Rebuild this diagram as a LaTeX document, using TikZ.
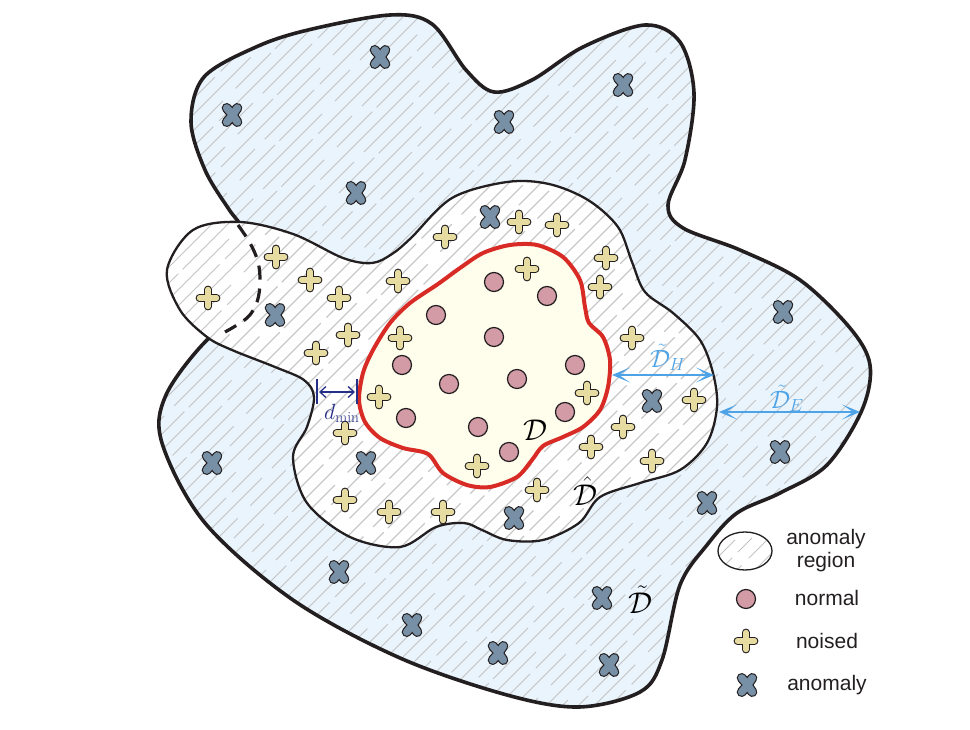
\RequirePackage{fix-cm}
\documentclass[tikz,border=0pt]{standalone}
\usepackage{fontspec}
\newfontfamily\legendfont{Liberation Sans}
\usetikzlibrary{arrows.meta}
\definecolor{bgblue}{HTML}{E9F4FD}
\definecolor{dyellow}{HTML}{FFFDEB}
\definecolor{dred}{HTML}{D92B25}
\definecolor{pinkfill}{HTML}{D29BA6}
\definecolor{plusfill}{HTML}{E6DCA2}
\definecolor{xfill}{HTML}{7890A6}
\definecolor{inkdark}{HTML}{231F20}
\definecolor{hatchgray}{HTML}{C4C4C4}
\definecolor{arrowblue}{HTML}{4DA3E6}
\definecolor{navy}{HTML}{262F87}

\def\outerpath{plot[smooth cycle, tension=0.55] coordinates {(240,224) (228,208) (205,170) (191,122) (204,77) (256,47) (308,30) (390,15) (432,24) (466,70) (494,92) (532,80) (583,47) (645,25) (680,42) (694,93) (685,160) (668,205) (683,228) (740,250) (800,280) (850,328) (870,365) (862,410) (827,465) (780,493) (737,513) (707,545) (680,585) (662,660) (640,692) (579,707) (507,695) (400,658) (293,600) (205,523) (162,443) (166,395) (207,340) (245,318) (260,282) (250,243)}}

\def\whitepath{plot[smooth cycle, tension=0.55] coordinates {(193,230) (240,222) (293,234) (343,258) (372,263) (392,254) (411,238) (452,198) (507,182) (549,184) (588,200) (618,227) (632,262) (645,292) (673,313) (700,340) (713,373) (717,407) (707,443) (680,470) (640,483) (600,497) (579,523) (543,540) (507,540) (482,530) (464,523) (436,527) (400,547) (350,537) (307,503) (293,457) (307,427) (314,397) (304,380) (275,367) (232,350) (207,337) (180,310) (167,270)}}

\def\redpath{plot[smooth cycle, tension=0.5] coordinates {(359,400) (363,373) (373,350) (390,323) (410,303) (438,284) (460,268) (483,253) (510,245) (537,245) (563,257) (580,280) (585,307) (589,323) (603,337) (610,360) (608,387) (600,410) (583,427) (563,437) (543,446) (532,460) (517,477) (490,487) (467,485) (443,473) (428,454) (403,448) (380,438) (365,422)}}

\newcommand\myhatch{%
  \foreach \c [evaluate=\c as \ph using {mod(\c*7,401)}] in {100,116,...,1700}
    {\draw[hatchline, dash phase=\ph pt] (\c,0) -- ({\c-800},800);}}

\begin{document}
\begin{tikzpicture}[x=1pt,y=-1pt,
  hatchline/.style={draw=hatchgray, line width=0.75pt,
    dash pattern=on 140pt off 8pt on 70pt off 14pt on 100pt off 6pt on 50pt off 18pt},
  plusmark/.pic={
    \draw[line width=7.8pt, line cap=round, inkdark] (-8.5,0) -- (8.5,0) (0,-8.5) -- (0,8.5);
    \draw[line width=5.4pt, line cap=round, plusfill] (-8.5,0) -- (8.5,0) (0,-8.5) -- (0,8.5);},
  xmark/.pic={
    \draw[line width=10pt, line cap=round, inkdark] (-5.3,-7) .. controls (0,-1) .. (5.3,7) (5.3,-7) .. controls (0,1) .. (-5.3,7);
    \draw[line width=7.6pt, line cap=round, xfill] (-5.3,-7) .. controls (0,-1) .. (5.3,7) (5.3,-7) .. controls (0,1) .. (-5.3,7);},
  normalmark/.pic={
    \filldraw[fill=pinkfill, draw=inkdark, line width=1.2pt] (0,0) circle [radius=9.5];},
  bluearrow/.style={draw=arrowblue, line width=2.2pt,
    {Stealth[length=18pt, width=15pt, inset=11pt]}-{Stealth[length=18pt, width=15pt, inset=11pt]}},
  legtext/.style={font=\legendfont\fontsize{21}{24}\selectfont, text=inkdark, align=center, inner sep=0pt}
]
\useasboundingbox (0,0) rectangle (970,730);

% regions
\fill[bgblue] \outerpath;
\fill[white] \whitepath;
\begin{scope}
  \clip \outerpath;
  \myhatch
\end{scope}
\begin{scope}
  \clip \whitepath;
  \myhatch
\end{scope}
\begin{scope}[even odd rule]
  \clip (-20,-20) rectangle (990,750) \whitepath;
  \draw[inkdark, line width=3.6pt, nonzero rule] \outerpath;
\end{scope}
\draw[inkdark, line width=2.3pt] \whitepath;
\draw[inkdark, line width=3.2pt, dash pattern=on 14pt off 9pt]
  plot[smooth, tension=0.6] coordinates {(238,225) (250,243) (258,262) (260,282) (257,302) (247,318) (225,332)};
\filldraw[fill=dyellow, draw=dred, line width=4pt] \redpath;

% normal points
\foreach \p in {(494,282),(547,296),(436,315),(494,337),(402,365),(575,365),(449,384),(517,379),(406,418),(565,412),(478,427),(509,452)}
  \pic at \p {normalmark};

% noised points
\foreach \p in {(519,222),(557,225),(445,237),(276,257),(310,280),(398,281),(339,298),(208,298),(606,258),(600,287),(348,335),(316,353),(632,338),(694,400),(345,433),(623,427),(591,447),(652,461),(537,490),(345,500),(389,512),(443,512),(527,269),(400,338),(379,397),(587,393),(477,466)}
  \pic at \p {plusmark};

% anomaly points
\foreach \p in {(380,57),(232,115),(504,122),(623,85),(356,193),(490,217),(275,315),(783,312),(652,401),(780,452),(366,463),(212,463),(514,518),(707,503),(339,572),(412,625),(498,653),(602,598),(609,665)}
  \pic at \p {xmark};

% labels of sets
\node[anchor=base, inner sep=0pt, font=\fontsize{30}{36}\selectfont] (dlab) at (535,440) {$\mathcal{D}$};
\node[anchor=base, inner sep=0pt, font=\fontsize{30}{36}\selectfont] (dhat) at (585,505) {$\hat{\mathcal{D}}$};
\node[anchor=base, inner sep=0pt, font=\fontsize{30}{36}\selectfont] (dtil) at (640,613) {$\tilde{\mathcal{D}}$};

% distance arrows
\coordinate (h1) at (612,375);
\coordinate (h2) at (714,375);
\draw[bluearrow] (h1) -- (h2);
\node[anchor=base west, inner sep=0pt, text=arrowblue, font=\fontsize{25}{30}\selectfont] (dhl) at (650,367) {$\tilde{\mathcal{D}}_{H}$};
\coordinate (e1) at (719,412);
\coordinate (e2) at (860,412);
\draw[bluearrow] (e1) -- (e2);
\node[anchor=base west, inner sep=0pt, text=arrowblue, font=\fontsize{25}{30}\selectfont] (del) at (770,408) {$\tilde{\mathcal{D}}_{E}$};

% d_min
\coordinate (b1t) at (317,379);
\coordinate (b1b) at (317,404);
\coordinate (b2t) at (357,379);
\coordinate (b2b) at (357,404);
\coordinate (m1) at (319,392);
\coordinate (m2) at (355,392);
\draw[navy, line width=2.4pt] (b1t) -- (b1b);
\draw[navy, line width=2.4pt] (b2t) -- (b2b);
\draw[navy, line width=1.3pt, {Straight Barb[length=6pt,width=11pt]}-{Straight Barb[length=6pt,width=11pt]}] (m1) -- (m2);
\node[anchor=base west, inner sep=0pt, text=navy, font=\fontsize{22}{26}\selectfont] (dmin) at (324,419) {$d_{\mathrm{min}}$};

% legend
\begin{scope}
  \clip (745,551) ellipse [x radius=27, y radius=19];
  \fill[white] (745,551) ellipse [x radius=27, y radius=19];
  \draw[hatchline, dash pattern=on 26pt off 6pt] (735,540) -- (715,560);
  \draw[hatchline, dash pattern=on 20pt off 8pt] (752,538) -- (722,568);
  \draw[hatchline, dash pattern=on 30pt off 10pt] (770,537) -- (738,569);
  \draw[hatchline] (775,550) -- (755,570);
\end{scope}
\draw[inkdark, line width=1.3pt] (745,551) ellipse [x radius=27, y radius=19];
\pic at (746,599) {normalmark};
\pic at (746,641) {plusmark};
\pic at (747,685) {xmark};
\node[legtext] (lg1) at (826,551) {anomaly\\[-1pt]region};
\node[legtext] (lg2) at (827,598) {normal};
\node[legtext] (lg3) at (827,641) {noised};
\node[legtext] (lg4) at (827,685) {anomaly};
\end{tikzpicture}
\end{document}
